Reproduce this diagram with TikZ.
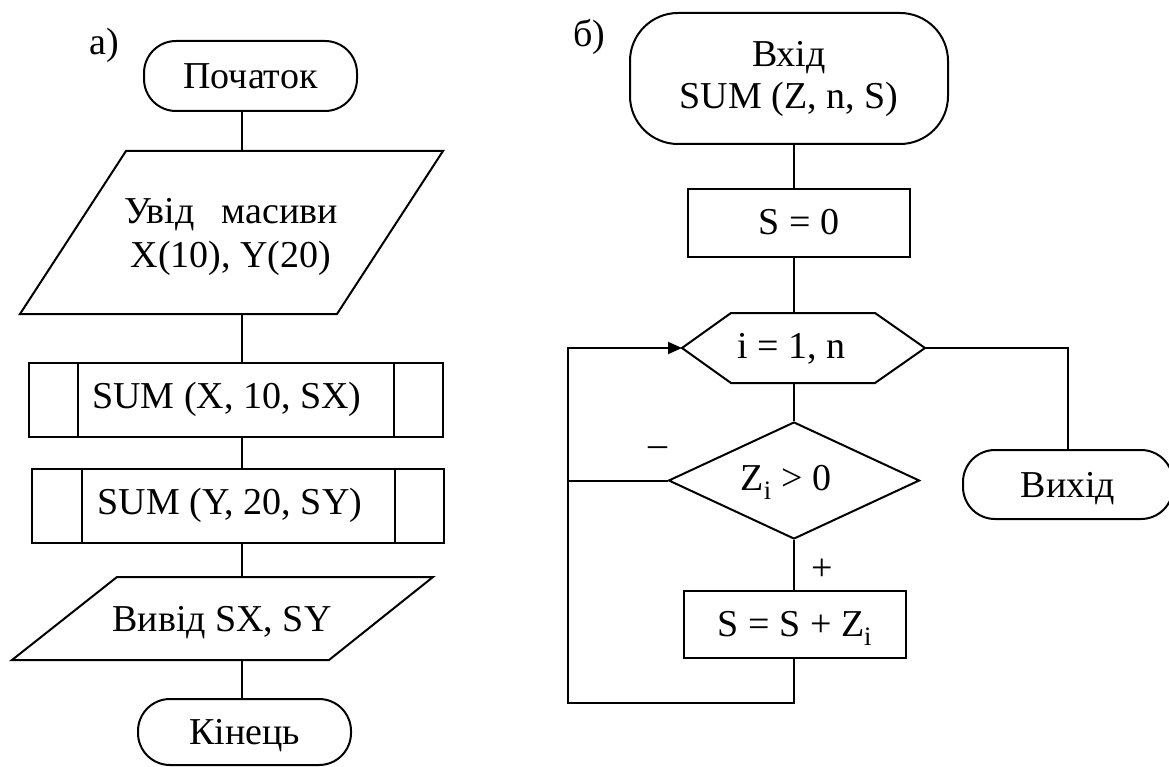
\documentclass[tikz,border=0pt]{standalone}
\usepackage{fontspec}
\setmainfont{Liberation Serif}
\usetikzlibrary{arrows.meta,shapes.geometric}
\newcommand\bigfont{\fontsize{38}{44}\selectfont}
\tikzset{
  box/.style={draw, rectangle, inner sep=0pt, font=\bigfont, line width=2pt},
  term/.style={box, rounded corners=32pt},
  bl/.style={text height=#1, text depth=0pt},
  txt/.style={inner sep=0pt, font=\bigfont},
  conn/.style={line width=2pt},
  shp/.style={draw, line width=2pt, line join=miter},
  tip/.style={-{Triangle[length=14pt,width=12pt]}}
}
\begin{document}
\begin{tikzpicture}[x=1pt,y=-1pt]
\useasboundingbox (0,0) rectangle (1169,767);
% ---------- a) ----------
\coordinate (colA) at (242,0);
\node[txt, anchor=base] (la) at (104,55) {а)};
\node[term, bl=26pt, minimum width=213pt, minimum height=70pt] (start) at (250.5,76) {Початок};
\coordinate (inpT) at (242,151);
\coordinate (inpB) at (242,314);
\draw[shp] (126,151) -- (443,151) -- (337,314) -- (20,314) -- cycle;
\node[txt, align=center, anchor=north] (inp) at (231,198) {Увід\hspace{27pt}масиви\\X(10), Y(20)};
\node[box, bl=17pt, minimum width=414pt, minimum height=74pt] (sx) at (236,400) {\hspace*{-18pt}SUM (X, 10, SX)};
\draw[conn] ([xshift=50pt]sx.north west) -- ([xshift=50pt]sx.south west);
\draw[conn] ([xshift=-50pt]sx.north east) -- ([xshift=-50pt]sx.south east);
\node[box, bl=17pt, minimum width=412pt, minimum height=74pt] (sy) at (238,506) {\hspace*{-16pt}SUM (Y, 20, SY)};
\draw[conn] ([xshift=51pt]sy.north west) -- ([xshift=51pt]sy.south west);
\draw[conn] ([xshift=-50pt]sy.north east) -- ([xshift=-50pt]sy.south east);
\coordinate (outT) at (242,577);
\coordinate (outB) at (242,660);
\draw[shp] (117,577) -- (433,577) -- (329,660) -- (12,660) -- cycle;
\node[txt, anchor=base] (out) at (222,631) {Вивід SX, SY};
\node[term, bl=25pt, minimum width=213pt, minimum height=66pt] (fin) at (244.5,732) {Кінець};
\draw[conn] (start.south -| colA) -- (inpT);
\draw[conn] (inpB) -- (sx.north -| colA);
\draw[conn] (sx.south -| colA) -- (sy.north -| colA);
\draw[conn] (sy.south -| colA) -- (outT);
\draw[conn] (outB) -- (fin.north -| colA);
% ---------- b) ----------
\coordinate (colB) at (794,0);
\node[txt, anchor=base] (lb) at (589,47) {б)};
\node[box, rounded corners=48pt, align=center, minimum width=318pt, minimum height=131pt] (entry) at (789,78.5) {Вхід\\[-2pt]SUM (Z, n, S)};
\node[box, bl=24pt, minimum width=222pt, minimum height=68pt] (s0) at (799,223) {S = 0};
\coordinate (hexL) at (682,348);
\coordinate (hexR) at (925,348);
\coordinate (hexT) at (794,313);
\coordinate (hexB) at (794,383);
\draw[shp] (hexL) -- (731,313) -- (875,313) -- (hexR) -- (875,383) -- (731,383) -- cycle;
\node[txt, anchor=base] (loop) at (791,358) {i = 1, n};
\node[draw, diamond, shape aspect=2.15, inner sep=0pt, line width=2pt, font=\bigfont, bl=19pt, minimum width=251pt, minimum height=117pt] (cond) at (794,480.5) {\hspace*{-16pt}Z\textsubscript{i} > 0};
\node[box, bl=23pt, minimum width=222pt, minimum height=67pt] (add) at (795,624.5) {S = S + Z\textsubscript{i}};
\node[term, bl=25pt, minimum width=210pt, minimum height=69pt] (exit) at (1068,484.5) {Вихід};
\node[txt] (mn) at (658,452) {–};
\node[txt] (pl) at (822,570) {+};
\coordinate (back) at (568,703);
\draw[conn] (entry.south -| colB) -- (s0.north -| colB);
\draw[conn] (s0.south -| colB) -- (hexT);
\draw[conn] (hexB) -- (cond.north);
\draw[conn] (cond.south) -- (add.north -| cond.south);
\draw[conn, tip] (add.south -| colB) |- (back) |- (hexL);
\draw[conn] (cond.west) -- (cond.west -| back);
\draw[conn] (hexR) -| (exit.north);
\end{tikzpicture}
\end{document}
